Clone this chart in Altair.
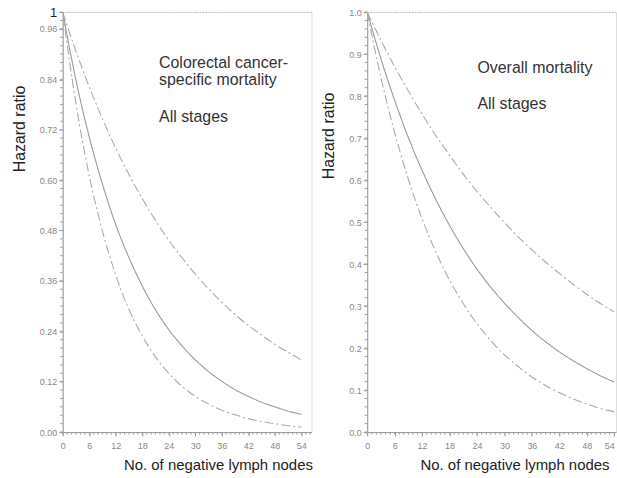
import altair as alt
import pandas as pd
import numpy as np

# ---- data ----
nodes = [0, 3, 6, 9, 12, 15, 18, 21, 24, 27, 30, 33, 36, 39, 42, 45, 48, 51, 54]

crc_hr = [1.000, 0.838, 0.703, 0.590, 0.494, 0.415, 0.348, 0.291, 0.244, 0.205,
          0.172, 0.144, 0.121, 0.101, 0.085, 0.071, 0.060, 0.050, 0.042]
crc_lo = [1.000, 0.782, 0.611, 0.478, 0.374, 0.292, 0.229, 0.179, 0.140, 0.109,
          0.085, 0.067, 0.052, 0.041, 0.032, 0.025, 0.020, 0.015, 0.012]
crc_hi = [1.000, 0.907, 0.822, 0.746, 0.676, 0.613, 0.556, 0.504, 0.457, 0.415,
          0.376, 0.341, 0.309, 0.280, 0.254, 0.231, 0.209, 0.190, 0.172]

om_hr = [1.000, 0.889, 0.790, 0.701, 0.623, 0.554, 0.492, 0.437, 0.388, 0.345,
         0.307, 0.273, 0.242, 0.215, 0.191, 0.170, 0.151, 0.134, 0.119]
om_lo = [1.000, 0.844, 0.713, 0.602, 0.508, 0.429, 0.362, 0.306, 0.258, 0.218,
         0.184, 0.156, 0.131, 0.111, 0.094, 0.079, 0.067, 0.056, 0.048]
om_hi = [1.000, 0.933, 0.870, 0.812, 0.757, 0.706, 0.659, 0.614, 0.573, 0.535,
         0.499, 0.465, 0.434, 0.405, 0.378, 0.352, 0.328, 0.306, 0.286]

x_ticks = [0, 6, 12, 18, 24, 30, 36, 42, 48, 54]
crc_yticks = [0, 0.12, 0.24, 0.36, 0.48, 0.6, 0.72, 0.84, 0.96, 1]
om_yticks = [0, 0.1, 0.2, 0.3, 0.4, 0.5, 0.6, 0.7, 0.8, 0.9, 1.0]

crc_notes = ["Colorectal cancer-", "specific mortality", "All stages"]
om_notes = ["Overall mortality", "All stages"]

FONT = "Liberation Sans"
W, H = 250, 422


def make_panel(hr, lo, hi, xmax, yaxis, xtitle_x, notes, note_x, note_y, last_right=False):
    df = pd.concat([
        pd.DataFrame({"x": nodes, "y": hr, "band": "hr"}),
        pd.DataFrame({"x": nodes, "y": lo, "band": "lo"}),
        pd.DataFrame({"x": nodes, "y": hi, "band": "hi"}),
    ])
    xs = alt.Scale(domain=[0, xmax], nice=False, zero=False)
    ys = alt.Scale(domain=[0, 1], nice=False)
    xlabel_align = "center"
    if last_right:
        xlabel_align = {"condition": {"test": "datum.value == 54", "value": "right"}, "value": "center"}
    xaxis = alt.Axis(values=x_ticks, title="No. of negative lymph nodes", grid=False,
                     labelFontSize=9, labelColor="#888", labelFont=FONT, labelPadding=6,
                     labelAlign=xlabel_align, labelOverlap=False,
                     tickSize=4, tickColor="#999", domainColor="#999",
                     titleFont=FONT, titleFontSize=15, titleFontWeight="normal", titleColor="#222",
                     titleX=xtitle_x, titleY=33, titleBaseline="middle", titleAnchor=None)
    lines = alt.Chart(df).mark_line(strokeWidth=1.1, interpolate="monotone", clip=True).encode(
        x=alt.X("x:Q", scale=xs, axis=xaxis),
        y=alt.Y("y:Q", scale=ys, axis=yaxis),
        strokeDash=alt.StrokeDash("band:N", scale=alt.Scale(domain=["hr", "lo", "hi"],
                                  range=[[1, 0], [9, 3, 2, 3], [9, 3, 2, 3]]), legend=None),
        color=alt.Color("band:N", scale=alt.Scale(domain=["hr", "lo", "hi"],
                        range=["#999999", "#aaaaaa", "#aaaaaa"]), legend=None),
    )
    top = alt.Chart(pd.DataFrame({"y": [1]})).mark_rule(strokeDash=[1, 2], color="#bbbbbb", strokeWidth=1).encode(
        y=alt.Y("y:Q", scale=ys, axis=yaxis)
    )
    # minor ticks
    yminor = alt.Chart(pd.DataFrame({"y": np.round(np.arange(0, 1.0001, 0.02), 3)})).mark_rule(
        color="#999999", strokeWidth=1).encode(
        y=alt.Y("y:Q", scale=ys, axis=yaxis), x=alt.value(0), x2=alt.value(-2.5))
    xminor = alt.Chart(pd.DataFrame({"x": list(range(0, int(xmax) + 1))})).mark_rule(
        color="#999999", strokeWidth=1).encode(
        x=alt.X("x:Q", scale=xs, axis=xaxis), y=alt.value(H), y2=alt.value(H + 2.5))
    ndf = pd.DataFrame({"t": notes, "x": [note_x] * len(notes), "y": note_y})
    txt = alt.Chart(ndf).mark_text(align="left", baseline="middle", font=FONT, fontSize=16,
                                   color="#333333").encode(
        x=alt.X("x:Q", scale=xs, axis=xaxis), y=alt.Y("y:Q", scale=ys, axis=yaxis), text="t:N")
    return alt.layer(lines, top, yminor, xminor, txt).properties(width=W, height=H)


def yaxis_base(values, label_expr, tx, ty, size_cond=None, color_cond=None):
    return alt.Axis(values=values, labelExpr=label_expr, title="Hazard ratio", grid=False,
                    labelFontSize=size_cond if size_cond is not None else 9,
                    labelColor=color_cond if color_cond is not None else "#888",
                    labelFont=FONT, labelPadding=2, labelOverlap=False,
                    tickSize=4, tickColor="#999", domainColor="#999",
                    titleFont=FONT, titleFontSize=16, titleFontWeight="normal", titleColor="#222",
                    titleAngle=270, titleX=tx, titleY=ty, titleBaseline="middle",
                    titleAlign="center", titleAnchor=None)


left_y = yaxis_base(crc_yticks, "datum.value == 1 ? '1' : format(datum.value, '.2f')", -43, 117,
                    size_cond={"condition": {"test": "datum.value == 1", "value": 13}, "value": 9},
                    color_cond={"condition": {"test": "datum.value == 1", "value": "#222"}, "value": "#888"})
right_y = yaxis_base(om_yticks, "format(datum.value, '.1f')", -39, 124)

left = make_panel(crc_hr, crc_lo, crc_hi, 56.3, left_y, 156, crc_notes, 21.8,
                  [0.879, 0.838, 0.749])
right = make_panel(om_hr, om_lo, om_hi, 54.4, right_y, 148, om_notes, 24.1,
                   [0.867, 0.782], last_right=True)

chart = alt.hconcat(left, right, spacing=56, bounds="flush").properties(
    padding={"left": 11, "top": 4, "right": 0, "bottom": 0}
).configure_view(stroke=None).configure(background="white")

chart.save("out.html", embed_options={"renderer": "svg", "actions": False})
